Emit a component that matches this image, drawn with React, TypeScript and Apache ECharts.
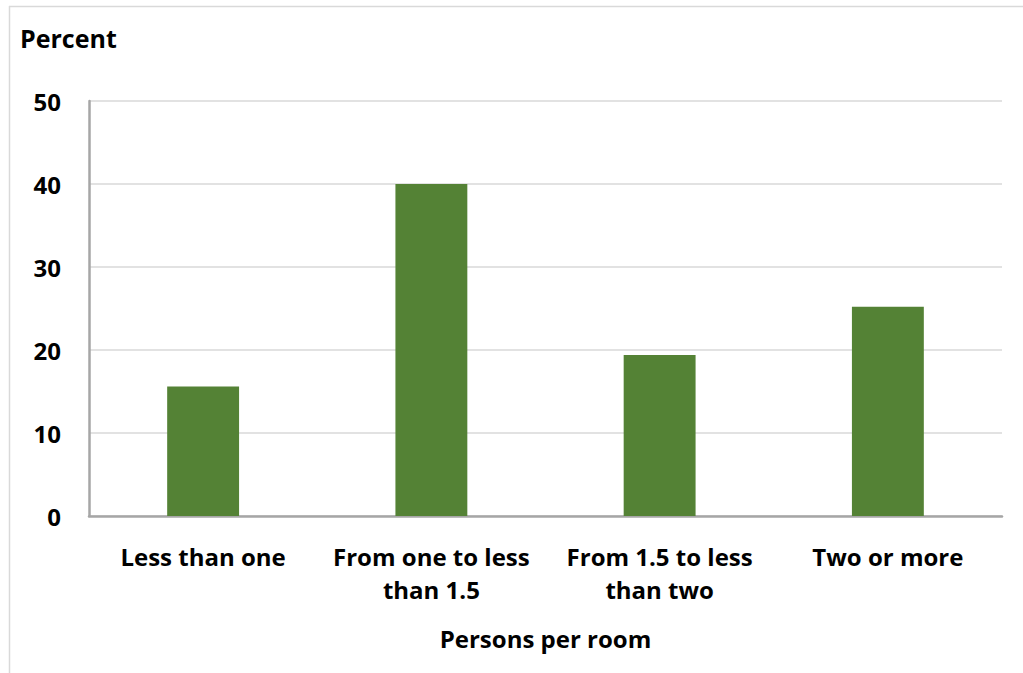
import React, { useEffect, useRef } from "react";
import * as echarts from "echarts";

const categories = ["Less than one", "From one to less\nthan 1.5", "From 1.5 to less\nthan two", "Two or more"];
const values = [15.6, 40.0, 19.4, 25.2];
const yTicks = { min: 0, max: 50, interval: 10 };
const yTitle = "Percent";
const xTitle = "Persons per room";

const FONT = "'Open Sans', sans-serif";

export default function App() {
  const ref = useRef<HTMLDivElement>(null);
  useEffect(() => {
    if (!ref.current) return;
    const chart = echarts.init(ref.current, null, { renderer: "svg" });
    chart.setOption({
      animation: false,
      backgroundColor: "#ffffff",
      textStyle: { fontFamily: FONT },
      grid: { left: 89, right: 21, top: 101, bottom: 157, containLabel: false, outerBoundsMode: "none" },
      graphic: [
        { type: "line", shape: { x1: 9, y1: 6.5, x2: 1023, y2: 6.5 }, style: { stroke: "#d9d9d9", lineWidth: 1.5 } },
        { type: "line", shape: { x1: 9.5, y1: 6, x2: 9.5, y2: 673 }, style: { stroke: "#d9d9d9", lineWidth: 1.5 } },
        {
          type: "text",
          left: 20,
          top: 25,
          style: { text: yTitle, font: `bold 25px ${FONT}`, fill: "#000" },
        },
      ],
      xAxis: {
        type: "category",
        data: categories,
        axisLine: { show: true, lineStyle: { color: "#a6a6a6", width: 2.5 } },
        axisTick: { show: false },
        axisLabel: {
          interval: 0,
          color: "#000",
          fontWeight: "bold",
          fontSize: 24,
          fontFamily: FONT,
          lineHeight: 33,
          margin: 24,
        },
        name: xTitle,
        nameLocation: "middle",
        nameGap: 110,
        nameTextStyle: { color: "#000", fontWeight: "bold", fontSize: 24, fontFamily: FONT },
      },
      yAxis: {
        type: "value",
        min: yTicks.min,
        max: yTicks.max,
        interval: yTicks.interval,
        axisLine: { show: true, lineStyle: { color: "#a6a6a6", width: 2.5 } },
        axisTick: { show: false },
        splitLine: { show: true, lineStyle: { color: "#d9d9d9", width: 1.5 } },
        axisLabel: { color: "#000", fontWeight: "bold", fontSize: 24, fontFamily: FONT, margin: 28 },
      },
      series: [
        {
          type: "bar",
          data: values,
          barWidth: "31.5%",
          itemStyle: { color: "#548235" },
        },
      ],
    });
    return () => chart.dispose();
  }, []);
  return <div ref={ref} style={{ position: "fixed", left: 0, top: 0, width: 1023, height: 673 }} />;
}
